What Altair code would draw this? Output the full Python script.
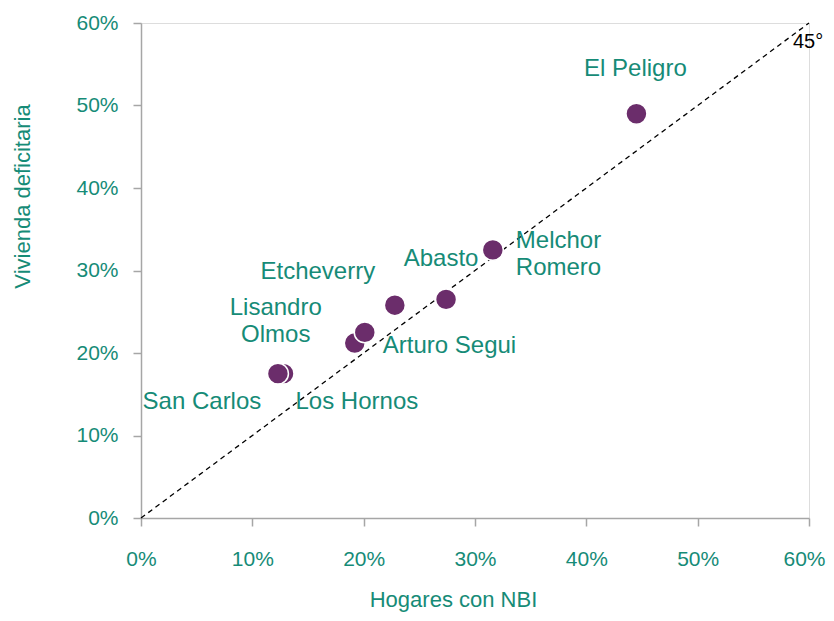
import altair as alt
import pandas as pd

# --- data (percent) ---
names = ["El Peligro", "Melchor Romero", "Abasto", "Etcheverry",
         "Lisandro Olmos", "Arturo Segui", "Los Hornos", "San Carlos"]
nbi = [44.5, 31.6, 27.4, 22.8, 19.2, 20.1, 12.8, 12.3]          # Hogares con NBI
vivienda = [49.0, 32.5, 26.5, 25.8, 21.2, 22.5, 17.5, 17.5]     # Vivienda deficitaria
label_text = ["El Peligro", "Melchor\nRomero", "Abasto", "Etcheverry",
              "Lisandro\nOlmos", "Arturo Segui", "Los Hornos", "San Carlos"]
diag = [0, 60]
ticks = [0, 10, 20, 30, 40, 50, 60]

# label placement (style, not data): align, dx, dy
label_style = {
    "El Peligro": ("center", -1, -38),
    "Melchor Romero": ("left", 23, -2),
    "Abasto": ("center", -5, -33),
    "Etcheverry": ("center", -77, -26),
    "Lisandro Olmos": ("center", -79, -28),
    "Arturo Segui": ("left", 18, 21),
    "Los Hornos": ("left", 12, 35),
    "San Carlos": ("center", -76, 35),
}

TEAL = "#168B77"
PURPLE = "#6B2D6B"
AXIS = "#A6A6A6"
FONT = "Liberation Sans"

df = pd.DataFrame({"name": names, "nbi": nbi, "viv": vivienda, "label": label_text})
df["order"] = range(len(df))
diag_df = pd.DataFrame({"x": diag, "y": diag})

xscale = alt.Scale(domain=[0, 60], nice=False, zero=True)
yscale = alt.Scale(domain=[0, 60], nice=False, zero=True)

xaxis = alt.Axis(values=ticks, labelExpr="datum.value + '%'", title="Hogares con NBI",
                 grid=False, domainColor=AXIS, domainWidth=1.5, tickColor=AXIS,
                 tickWidth=1.5, tickSize=8, labelPadding=22, labelFontSize=21,
                 labelColor=TEAL, labelFont=FONT, titleFont=FONT, titleFontSize=22,
                 titleFontWeight="normal", titleColor=TEAL, titleX=312, titleY=88,
                 titleAlign="center", titleBaseline="alphabetic", labelFlush=False,
                 labelAlign={"condition": {"test": "datum.value == 60", "value": "right"},
                             "value": "center"},
                 labelOffset={"condition": {"test": "datum.value == 60", "value": 16},
                              "value": 0})
yaxis = alt.Axis(values=ticks, labelExpr="datum.value + '%'", title="Vivienda deficitaria",
                 grid=False, domainColor=AXIS, domainWidth=1.5, tickColor=AXIS,
                 tickWidth=1.5, tickSize=8, labelPadding=15, labelFontSize=21,
                 labelColor=TEAL, labelFont=FONT, titleFont=FONT, titleFontSize=22,
                 titleFontWeight="normal", titleColor=TEAL, titleX=-112, titleY=173,
                 titleAlign="center", titleBaseline="alphabetic", titleAngle=270,
                 labelFlush=False)

base_x = alt.X("x:Q", scale=xscale, axis=xaxis)
base_y = alt.Y("y:Q", scale=yscale, axis=yaxis)

line = alt.Chart(diag_df).mark_line(color="black", strokeDash=[5, 4], strokeWidth=1.3).encode(
    x=base_x, y=base_y)

deg = alt.Chart(diag_df).transform_filter("datum.x == 60").mark_text(
    text="45°", align="left", baseline="alphabetic", dx=-16, dy=25, fontSize=20,
    font=FONT, color="black").encode(
    x=alt.X("x:Q", scale=xscale), y=alt.Y("y:Q", scale=yscale))

points = alt.Chart(df).mark_point(filled=True, shape="circle", size=440, color=PURPLE,
                                  opacity=1, stroke="white", strokeWidth=1.5).encode(
    x=alt.X("nbi:Q", scale=xscale, axis=xaxis),
    y=alt.Y("viv:Q", scale=yscale, axis=yaxis),
    order=alt.Order("order:Q"))

layers = [line, points, deg]
for n in names:
    a, dx, dy = label_style[n]
    layers.append(
        alt.Chart(df).transform_filter(alt.datum.name == n).mark_text(
            align=a, baseline="alphabetic", dx=dx, dy=dy, fontSize=24, font=FONT,
            color=TEAL, lineBreak="\n", lineHeight=27).encode(
            x=alt.X("nbi:Q", scale=xscale), y=alt.Y("viv:Q", scale=yscale),
            text="label:N"))

chart = alt.layer(*layers).properties(
    width=668, height=495,
    autosize=alt.AutoSizeParams(type="none"),
    padding={"left": 133, "top": 15, "right": 17, "bottom": 95},
    background="white",
).configure_view(stroke=None).configure(font=FONT)

chart.save("out.html", embed_options={"renderer": "svg", "actions": False})
